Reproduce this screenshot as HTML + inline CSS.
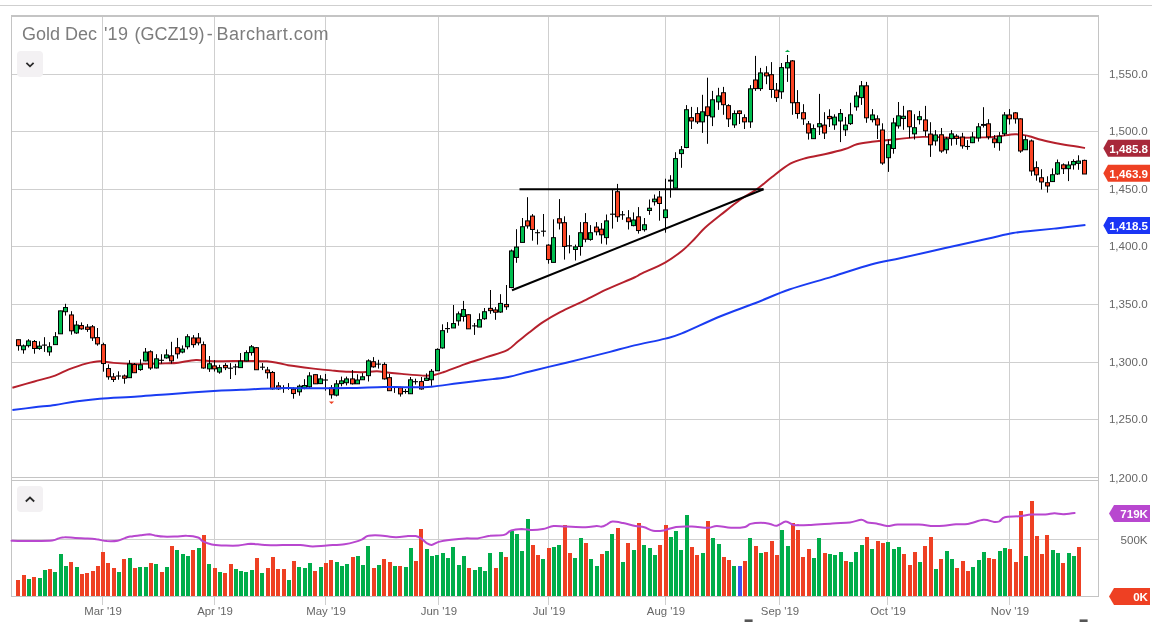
<!DOCTYPE html><html><head><meta charset="utf-8"><title>Gold Dec '19</title>
<style>html,body{margin:0;padding:0;background:#fff;}body{width:1162px;height:622px;overflow:hidden;position:relative;font-family:"Liberation Sans",sans-serif;}svg{position:absolute;left:0;top:0;display:block;will-change:transform}text{font-family:"Liberation Sans",sans-serif;}</style></head><body>
<svg width="1162" height="622" viewBox="0 0 1162 622">
<rect x="0" y="0" width="1162" height="622" fill="#fff"/>
<rect x="0" y="5" width="1152" height="1" fill="#cfcfcf"/>
<g fill="#cfcfcf" shape-rendering="crispEdges">
<rect x="102" y="16" width="1" height="461"/>
<rect x="102" y="481" width="1" height="115"/>
<rect x="102" y="597" width="1" height="8"/>
<rect x="214" y="16" width="1" height="461"/>
<rect x="214" y="481" width="1" height="115"/>
<rect x="214" y="597" width="1" height="8"/>
<rect x="325" y="16" width="1" height="461"/>
<rect x="325" y="481" width="1" height="115"/>
<rect x="325" y="597" width="1" height="8"/>
<rect x="438" y="16" width="1" height="461"/>
<rect x="438" y="481" width="1" height="115"/>
<rect x="438" y="597" width="1" height="8"/>
<rect x="548" y="16" width="1" height="461"/>
<rect x="548" y="481" width="1" height="115"/>
<rect x="548" y="597" width="1" height="8"/>
<rect x="665" y="16" width="1" height="461"/>
<rect x="665" y="481" width="1" height="115"/>
<rect x="665" y="597" width="1" height="8"/>
<rect x="779" y="16" width="1" height="461"/>
<rect x="779" y="481" width="1" height="115"/>
<rect x="779" y="597" width="1" height="8"/>
<rect x="887" y="16" width="1" height="461"/>
<rect x="887" y="481" width="1" height="115"/>
<rect x="887" y="597" width="1" height="8"/>
<rect x="1009" y="16" width="1" height="461"/>
<rect x="1009" y="481" width="1" height="115"/>
<rect x="1009" y="597" width="1" height="8"/>
<rect x="12" y="74" width="1086" height="1"/>
<rect x="12" y="131" width="1086" height="1"/>
<rect x="12" y="189" width="1086" height="1"/>
<rect x="12" y="246" width="1086" height="1"/>
<rect x="12" y="304" width="1086" height="1"/>
<rect x="12" y="362" width="1086" height="1"/>
<rect x="12" y="419" width="1086" height="1"/>
<rect x="12" y="539" width="1086" height="1"/>
</g>
<g fill="#c4c4c4" shape-rendering="crispEdges">
<rect x="11" y="15" width="1088" height="2"/>
<rect x="11" y="15" width="1" height="582"/>
<rect x="1098" y="15" width="1" height="582"/>
<rect x="11" y="477" width="1088" height="1"/>
<rect x="11" y="480" width="1088" height="1"/>
<rect x="11" y="480" width="1" height="117"/>
<rect x="1098" y="480" width="1" height="117"/>
<rect x="11" y="596" width="1088" height="1"/>
</g>
<g shape-rendering="crispEdges">
<rect x="16" y="580" width="4" height="16" fill="#ee4023"/>
<rect x="22" y="575" width="4" height="21" fill="#ee4023"/>
<rect x="27" y="579" width="4" height="17" fill="#00ad4a"/>
<rect x="32" y="577" width="4" height="19" fill="#ee4023"/>
<rect x="38" y="578" width="4" height="18" fill="#00ad4a"/>
<rect x="43" y="570" width="4" height="26" fill="#00ad4a"/>
<rect x="48" y="569" width="4" height="27" fill="#ee4023"/>
<rect x="53" y="572" width="4" height="24" fill="#00ad4a"/>
<rect x="59" y="554" width="4" height="42" fill="#00ad4a"/>
<rect x="64" y="566" width="4" height="30" fill="#00ad4a"/>
<rect x="69" y="562" width="4" height="34" fill="#ee4023"/>
<rect x="75" y="567" width="4" height="29" fill="#00ad4a"/>
<rect x="80" y="574" width="4" height="22" fill="#ee4023"/>
<rect x="85" y="573" width="4" height="23" fill="#ee4023"/>
<rect x="91" y="571" width="4" height="25" fill="#ee4023"/>
<rect x="96" y="566" width="4" height="30" fill="#ee4023"/>
<rect x="101" y="552" width="4" height="44" fill="#ee4023"/>
<rect x="106" y="563" width="4" height="33" fill="#ee4023"/>
<rect x="112" y="568" width="4" height="28" fill="#ee4023"/>
<rect x="117" y="572" width="4" height="24" fill="#00ad4a"/>
<rect x="122" y="559" width="4" height="37" fill="#ee4023"/>
<rect x="128" y="558" width="4" height="38" fill="#00ad4a"/>
<rect x="133" y="568" width="4" height="28" fill="#ee4023"/>
<rect x="138" y="567" width="4" height="29" fill="#00ad4a"/>
<rect x="144" y="567" width="4" height="29" fill="#00ad4a"/>
<rect x="149" y="563" width="4" height="33" fill="#ee4023"/>
<rect x="154" y="564" width="4" height="32" fill="#00ad4a"/>
<rect x="160" y="572" width="4" height="24" fill="#ee4023"/>
<rect x="165" y="567" width="4" height="29" fill="#00ad4a"/>
<rect x="170" y="546" width="4" height="50" fill="#ee4023"/>
<rect x="175" y="550" width="4" height="46" fill="#00ad4a"/>
<rect x="181" y="554" width="4" height="42" fill="#00ad4a"/>
<rect x="186" y="556" width="4" height="40" fill="#00ad4a"/>
<rect x="191" y="550" width="4" height="46" fill="#ee4023"/>
<rect x="197" y="548" width="4" height="48" fill="#00ad4a"/>
<rect x="202" y="535" width="4" height="61" fill="#ee4023"/>
<rect x="207" y="564" width="4" height="32" fill="#00ad4a"/>
<rect x="213" y="568" width="4" height="28" fill="#ee4023"/>
<rect x="218" y="572" width="4" height="24" fill="#00ad4a"/>
<rect x="223" y="573" width="4" height="23" fill="#ee4023"/>
<rect x="229" y="564" width="4" height="32" fill="#ee4023"/>
<rect x="234" y="569" width="4" height="27" fill="#00ad4a"/>
<rect x="239" y="571" width="4" height="25" fill="#00ad4a"/>
<rect x="244" y="572" width="4" height="24" fill="#00ad4a"/>
<rect x="250" y="570" width="4" height="26" fill="#00ad4a"/>
<rect x="255" y="558" width="4" height="38" fill="#ee4023"/>
<rect x="260" y="573" width="4" height="23" fill="#00ad4a"/>
<rect x="266" y="568" width="4" height="28" fill="#ee4023"/>
<rect x="271" y="557" width="4" height="39" fill="#ee4023"/>
<rect x="276" y="569" width="4" height="27" fill="#ee4023"/>
<rect x="282" y="569" width="4" height="27" fill="#ee4023"/>
<rect x="287" y="580" width="4" height="16" fill="#00ad4a"/>
<rect x="292" y="561" width="4" height="35" fill="#ee4023"/>
<rect x="297" y="567" width="4" height="29" fill="#00ad4a"/>
<rect x="303" y="568" width="4" height="28" fill="#00ad4a"/>
<rect x="308" y="563" width="4" height="33" fill="#00ad4a"/>
<rect x="313" y="571" width="4" height="25" fill="#ee4023"/>
<rect x="319" y="567" width="4" height="29" fill="#00ad4a"/>
<rect x="324" y="563" width="4" height="33" fill="#ee4023"/>
<rect x="329" y="560" width="4" height="36" fill="#ee4023"/>
<rect x="335" y="562" width="4" height="34" fill="#00ad4a"/>
<rect x="340" y="566" width="4" height="30" fill="#00ad4a"/>
<rect x="345" y="564" width="4" height="32" fill="#00ad4a"/>
<rect x="351" y="557" width="4" height="39" fill="#ee4023"/>
<rect x="356" y="556" width="4" height="40" fill="#00ad4a"/>
<rect x="361" y="565" width="4" height="31" fill="#00ad4a"/>
<rect x="366" y="546" width="4" height="50" fill="#00ad4a"/>
<rect x="372" y="568" width="4" height="28" fill="#ee4023"/>
<rect x="377" y="565" width="4" height="31" fill="#00ad4a"/>
<rect x="382" y="559" width="4" height="37" fill="#ee4023"/>
<rect x="388" y="562" width="4" height="34" fill="#ee4023"/>
<rect x="393" y="566" width="4" height="30" fill="#00ad4a"/>
<rect x="398" y="566" width="4" height="30" fill="#ee4023"/>
<rect x="404" y="567" width="4" height="29" fill="#00ad4a"/>
<rect x="409" y="548" width="4" height="48" fill="#00ad4a"/>
<rect x="414" y="561" width="4" height="35" fill="#ee4023"/>
<rect x="419" y="529" width="4" height="67" fill="#ee4023"/>
<rect x="425" y="549" width="4" height="47" fill="#00ad4a"/>
<rect x="430" y="556" width="4" height="40" fill="#00ad4a"/>
<rect x="435" y="555" width="4" height="41" fill="#00ad4a"/>
<rect x="441" y="553" width="4" height="43" fill="#00ad4a"/>
<rect x="446" y="558" width="4" height="38" fill="#00ad4a"/>
<rect x="451" y="547" width="4" height="49" fill="#00ad4a"/>
<rect x="457" y="565" width="4" height="31" fill="#00ad4a"/>
<rect x="462" y="556" width="4" height="40" fill="#00ad4a"/>
<rect x="467" y="568" width="4" height="28" fill="#ee4023"/>
<rect x="473" y="570" width="4" height="26" fill="#00ad4a"/>
<rect x="478" y="567" width="4" height="29" fill="#00ad4a"/>
<rect x="483" y="571" width="4" height="25" fill="#00ad4a"/>
<rect x="488" y="553" width="4" height="43" fill="#00ad4a"/>
<rect x="494" y="568" width="4" height="28" fill="#ee4023"/>
<rect x="499" y="552" width="4" height="44" fill="#00ad4a"/>
<rect x="504" y="557" width="4" height="39" fill="#ee4023"/>
<rect x="510" y="531" width="4" height="65" fill="#00ad4a"/>
<rect x="515" y="534" width="4" height="62" fill="#00ad4a"/>
<rect x="520" y="551" width="4" height="45" fill="#00ad4a"/>
<rect x="526" y="519" width="4" height="77" fill="#00ad4a"/>
<rect x="531" y="545" width="4" height="51" fill="#ee4023"/>
<rect x="536" y="555" width="4" height="41" fill="#ee4023"/>
<rect x="541" y="559" width="4" height="37" fill="#00ad4a"/>
<rect x="547" y="548" width="4" height="48" fill="#ee4023"/>
<rect x="552" y="547" width="4" height="49" fill="#00ad4a"/>
<rect x="557" y="545" width="4" height="51" fill="#00ad4a"/>
<rect x="563" y="525" width="4" height="71" fill="#ee4023"/>
<rect x="568" y="553" width="4" height="43" fill="#ee4023"/>
<rect x="573" y="558" width="4" height="38" fill="#00ad4a"/>
<rect x="579" y="538" width="4" height="58" fill="#00ad4a"/>
<rect x="584" y="543" width="4" height="53" fill="#ee4023"/>
<rect x="589" y="559" width="4" height="37" fill="#00ad4a"/>
<rect x="595" y="566" width="4" height="30" fill="#00ad4a"/>
<rect x="600" y="554" width="4" height="42" fill="#ee4023"/>
<rect x="605" y="551" width="4" height="45" fill="#00ad4a"/>
<rect x="610" y="534" width="4" height="62" fill="#00ad4a"/>
<rect x="616" y="528" width="4" height="68" fill="#ee4023"/>
<rect x="621" y="562" width="4" height="34" fill="#00ad4a"/>
<rect x="626" y="543" width="4" height="53" fill="#ee4023"/>
<rect x="632" y="550" width="4" height="46" fill="#00ad4a"/>
<rect x="637" y="523" width="4" height="73" fill="#ee4023"/>
<rect x="642" y="545" width="4" height="51" fill="#00ad4a"/>
<rect x="648" y="548" width="4" height="48" fill="#00ad4a"/>
<rect x="653" y="555" width="4" height="41" fill="#00ad4a"/>
<rect x="658" y="545" width="4" height="51" fill="#ee4023"/>
<rect x="664" y="525" width="4" height="71" fill="#ee4023"/>
<rect x="669" y="537" width="4" height="59" fill="#00ad4a"/>
<rect x="674" y="531" width="4" height="65" fill="#00ad4a"/>
<rect x="679" y="550" width="4" height="46" fill="#00ad4a"/>
<rect x="685" y="515" width="4" height="81" fill="#00ad4a"/>
<rect x="690" y="547" width="4" height="49" fill="#ee4023"/>
<rect x="695" y="555" width="4" height="41" fill="#ee4023"/>
<rect x="701" y="553" width="4" height="43" fill="#00ad4a"/>
<rect x="706" y="521" width="4" height="75" fill="#ee4023"/>
<rect x="711" y="538" width="4" height="58" fill="#00ad4a"/>
<rect x="717" y="544" width="4" height="52" fill="#00ad4a"/>
<rect x="722" y="557" width="4" height="39" fill="#ee4023"/>
<rect x="727" y="560" width="4" height="36" fill="#ee4023"/>
<rect x="732" y="566" width="4" height="30" fill="#00ad4a"/>
<rect x="738" y="566" width="4" height="30" fill="#3b55f0"/>
<rect x="743" y="561" width="4" height="35" fill="#ee4023"/>
<rect x="748" y="538" width="4" height="58" fill="#00ad4a"/>
<rect x="754" y="546" width="4" height="50" fill="#ee4023"/>
<rect x="759" y="553" width="4" height="43" fill="#00ad4a"/>
<rect x="764" y="552" width="4" height="44" fill="#ee4023"/>
<rect x="770" y="541" width="4" height="55" fill="#ee4023"/>
<rect x="775" y="555" width="4" height="41" fill="#ee4023"/>
<rect x="780" y="530" width="4" height="66" fill="#00ad4a"/>
<rect x="786" y="546" width="4" height="50" fill="#00ad4a"/>
<rect x="791" y="523" width="4" height="73" fill="#ee4023"/>
<rect x="796" y="530" width="4" height="66" fill="#ee4023"/>
<rect x="801" y="557" width="4" height="39" fill="#ee4023"/>
<rect x="807" y="549" width="4" height="47" fill="#ee4023"/>
<rect x="812" y="558" width="4" height="38" fill="#00ad4a"/>
<rect x="817" y="538" width="4" height="58" fill="#00ad4a"/>
<rect x="823" y="553" width="4" height="43" fill="#ee4023"/>
<rect x="828" y="554" width="4" height="42" fill="#00ad4a"/>
<rect x="833" y="555" width="4" height="41" fill="#00ad4a"/>
<rect x="839" y="552" width="4" height="44" fill="#00ad4a"/>
<rect x="844" y="561" width="4" height="35" fill="#ee4023"/>
<rect x="849" y="562" width="4" height="34" fill="#00ad4a"/>
<rect x="854" y="552" width="4" height="44" fill="#00ad4a"/>
<rect x="860" y="545" width="4" height="51" fill="#00ad4a"/>
<rect x="865" y="537" width="4" height="59" fill="#ee4023"/>
<rect x="870" y="549" width="4" height="47" fill="#00ad4a"/>
<rect x="876" y="541" width="4" height="55" fill="#ee4023"/>
<rect x="881" y="543" width="4" height="53" fill="#ee4023"/>
<rect x="886" y="542" width="4" height="54" fill="#00ad4a"/>
<rect x="892" y="549" width="4" height="47" fill="#00ad4a"/>
<rect x="897" y="547" width="4" height="49" fill="#00ad4a"/>
<rect x="902" y="554" width="4" height="42" fill="#ee4023"/>
<rect x="908" y="565" width="4" height="31" fill="#ee4023"/>
<rect x="913" y="552" width="4" height="44" fill="#ee4023"/>
<rect x="918" y="562" width="4" height="34" fill="#00ad4a"/>
<rect x="923" y="546" width="4" height="50" fill="#ee4023"/>
<rect x="929" y="537" width="4" height="59" fill="#ee4023"/>
<rect x="934" y="569" width="4" height="27" fill="#00ad4a"/>
<rect x="939" y="559" width="4" height="37" fill="#ee4023"/>
<rect x="945" y="551" width="4" height="45" fill="#00ad4a"/>
<rect x="950" y="559" width="4" height="37" fill="#00ad4a"/>
<rect x="955" y="568" width="4" height="28" fill="#ee4023"/>
<rect x="961" y="561" width="4" height="35" fill="#ee4023"/>
<rect x="966" y="571" width="4" height="25" fill="#ee4023"/>
<rect x="971" y="567" width="4" height="29" fill="#00ad4a"/>
<rect x="977" y="560" width="4" height="36" fill="#00ad4a"/>
<rect x="982" y="552" width="4" height="44" fill="#00ad4a"/>
<rect x="987" y="558" width="4" height="38" fill="#ee4023"/>
<rect x="992" y="559" width="4" height="37" fill="#ee4023"/>
<rect x="998" y="551" width="4" height="45" fill="#00ad4a"/>
<rect x="1003" y="548" width="4" height="48" fill="#00ad4a"/>
<rect x="1008" y="549" width="4" height="47" fill="#ee4023"/>
<rect x="1014" y="562" width="4" height="34" fill="#ee4023"/>
<rect x="1019" y="511" width="4" height="85" fill="#ee4023"/>
<rect x="1024" y="556" width="4" height="40" fill="#00ad4a"/>
<rect x="1030" y="501" width="4" height="95" fill="#ee4023"/>
<rect x="1035" y="536" width="4" height="60" fill="#ee4023"/>
<rect x="1040" y="554" width="4" height="42" fill="#ee4023"/>
<rect x="1045" y="535" width="4" height="61" fill="#ee4023"/>
<rect x="1051" y="550" width="4" height="46" fill="#00ad4a"/>
<rect x="1056" y="553" width="4" height="43" fill="#00ad4a"/>
<rect x="1061" y="563" width="4" height="33" fill="#ee4023"/>
<rect x="1067" y="553" width="4" height="43" fill="#00ad4a"/>
<rect x="1072" y="556" width="4" height="40" fill="#00ad4a"/>
<rect x="1077" y="547" width="4" height="49" fill="#ee4023"/>
</g>
<path fill="none" stroke="#b847cf" stroke-width="2" stroke-linejoin="round" stroke-linecap="round" d="M11.5,540.7 C14.8,540.8 24.2,541.1 31.0,541.1 C37.8,541.0 47.5,541.0 52.2,540.5 C56.9,540.0 57.2,538.6 59.3,538.1 C61.4,537.5 61.9,537.2 64.6,537.2 C67.3,537.1 71.4,537.7 75.2,537.9 C79.0,538.1 84.1,538.2 87.6,538.4 C91.1,538.6 93.2,538.8 96.4,539.3 C99.7,539.7 103.5,540.8 107.0,541.1 C110.6,541.3 114.7,541.2 117.7,540.7 C120.6,540.2 122.7,538.7 124.7,538.1 C126.8,537.4 127.4,537.1 130.0,536.6 C132.7,536.2 137.4,535.6 140.6,535.2 C143.9,534.8 147.1,534.3 149.5,534.3 C151.9,534.4 152.4,535.0 154.8,535.4 C157.2,535.8 160.1,536.5 163.6,536.6 C167.2,536.8 172.2,536.6 176.0,536.5 C179.9,536.3 182.9,535.6 186.6,535.8 C190.3,535.9 195.5,536.6 198.1,537.5 C200.8,538.4 200.3,539.9 202.6,541.1 C204.8,542.2 208.2,543.9 211.8,544.6 C215.5,545.3 219.8,545.3 224.2,545.5 C228.6,545.6 234.0,545.8 238.4,545.5 C242.8,545.2 246.3,543.8 250.8,543.7 C255.2,543.7 259.6,544.9 264.9,545.1 C270.2,545.4 276.7,545.1 282.6,545.1 C288.5,545.1 295.3,544.9 300.3,545.1 C305.3,545.3 308.2,546.3 312.7,546.4 C317.1,546.4 321.5,545.8 326.8,545.5 C332.1,545.1 339.8,544.8 344.5,544.2 C349.2,543.7 352.2,542.8 355.1,541.9 C358.1,541.1 360.0,540.3 362.2,539.3 C364.4,538.3 365.4,536.4 368.4,535.8 C371.3,535.1 375.3,535.2 379.9,535.4 C384.4,535.6 391.1,537.1 395.8,537.2 C400.5,537.3 404.7,536.3 408.0,536.1 C411.3,535.9 413.5,535.7 415.7,536.1 C417.9,536.5 419.2,537.3 421.0,538.4 C422.8,539.5 424.5,541.7 426.3,542.8 C428.1,543.9 429.5,545.1 431.6,545.0 C433.7,544.8 435.4,542.8 438.7,541.9 C441.9,541.1 446.6,540.4 451.1,539.8 C455.5,539.2 460.8,538.6 465.2,538.4 C469.6,538.2 473.5,538.8 477.6,538.4 C481.7,538.0 485.5,536.3 490.0,535.8 C494.4,535.2 500.6,535.8 504.1,534.9 C507.7,534.0 508.2,531.4 511.2,530.4 C514.1,529.5 518.3,529.1 521.8,529.0 C525.3,529.0 528.9,530.1 532.4,530.1 C536.0,530.1 539.5,529.7 543.0,529.0 C546.6,528.4 549.8,526.4 553.6,526.0 C557.5,525.6 560.7,526.4 566.0,526.6 C571.3,526.8 580.4,527.4 585.5,527.3 C590.6,527.2 593.8,526.1 596.5,526.0 C599.3,525.9 600.1,526.9 601.8,526.6 C603.6,526.3 605.4,525.1 607.1,524.3 C608.9,523.4 609.8,521.8 612.5,521.6 C615.1,521.4 619.2,522.3 623.1,523.0 C626.9,523.8 631.9,525.3 635.4,526.0 C639.0,526.7 641.3,526.5 644.3,527.3 C647.2,528.1 649.9,530.3 653.1,530.8 C656.4,531.3 659.9,531.1 663.7,530.4 C667.6,529.8 671.4,527.6 676.1,526.9 C680.8,526.3 686.7,526.4 692.0,526.6 C697.4,526.7 703.8,527.9 708.0,527.8 C712.1,527.7 713.0,526.0 716.8,526.0 C720.6,526.0 726.2,527.6 731.0,527.8 C735.7,527.9 741.9,527.6 745.1,526.9 C748.3,526.3 747.8,524.6 750.4,523.9 C753.1,523.2 757.8,522.8 761.0,522.8 C764.3,522.8 767.2,523.4 769.9,523.9 C772.5,524.4 774.3,526.1 776.9,525.7 C779.6,525.3 783.1,521.8 785.8,521.6 C788.4,521.5 790.8,524.2 792.9,524.8 C794.9,525.4 795.3,525.1 798.0,525.1 C800.7,525.2 803.5,525.4 809.2,525.1 C814.9,524.8 825.4,523.8 832.2,523.4 C839.0,522.9 845.0,523.1 849.9,522.5 C854.8,521.9 858.5,519.8 861.4,519.8 C864.3,519.8 865.1,521.9 867.6,522.5 C870.1,523.1 873.2,522.8 876.4,523.4 C879.7,524.0 883.5,525.8 887.0,526.0 C890.6,526.2 892.4,524.8 897.7,524.6 C903.0,524.4 913.0,524.4 918.9,524.6 C924.8,524.8 928.9,525.8 933.0,526.0 C937.2,526.2 939.8,526.0 943.6,525.7 C947.5,525.4 952.0,524.6 956.0,524.3 C960.0,524.0 963.0,524.6 967.6,523.9 C972.2,523.2 979.1,520.2 983.5,519.8 C988.0,519.5 991.5,521.7 994.1,522.0 C996.8,522.2 997.7,522.0 999.4,521.3 C1001.2,520.5 1001.5,518.0 1004.8,517.2 C1008.0,516.4 1014.5,516.7 1018.9,516.3 C1023.3,515.9 1026.9,514.8 1031.3,514.5 C1035.7,514.2 1041.6,514.7 1045.4,514.5 C1049.3,514.3 1051.3,513.4 1054.3,513.3 C1057.2,513.2 1059.7,514.2 1063.1,514.2 C1066.5,514.1 1072.7,513.1 1074.6,512.9"/>
<path fill="none" stroke="#b5202c" stroke-width="1.95" stroke-linejoin="round" d="M12.4,387.7 C16.1,386.7 27.3,383.5 34.4,381.5 C41.5,379.5 49.4,377.6 55.1,375.6 C60.8,373.6 63.6,371.4 68.8,369.4 C74.0,367.4 80.8,365.0 86.0,363.6 C91.2,362.2 95.2,361.3 99.8,361.2 C104.4,361.1 107.3,362.4 113.6,362.9 C119.9,363.4 132.8,364.1 137.7,364.3 C142.6,364.5 138.4,364.0 143.0,363.9 C147.6,363.8 159.3,363.6 165.2,363.4 C171.1,363.2 173.3,363.3 178.4,362.7 C183.5,362.1 190.1,360.2 196.0,360.0 C201.9,359.8 204.8,361.2 213.7,361.3 C222.5,361.4 240.2,360.9 249.1,360.9 C257.9,360.9 262.0,360.9 266.8,361.3 C271.6,361.7 274.5,362.4 278.0,363.0 C281.5,363.6 285.1,364.6 288.0,365.2 C290.9,365.8 291.5,365.7 295.7,366.3 C299.9,366.9 307.5,367.9 313.4,368.6 C319.3,369.3 325.1,369.9 331.0,370.4 C336.9,370.9 343.4,371.5 348.7,371.8 C354.0,372.1 358.2,372.3 362.9,372.2 C367.6,372.1 372.9,371.2 377.0,371.3 C381.1,371.4 383.5,372.1 387.6,372.5 C391.7,372.9 396.0,373.4 401.8,373.9 C407.6,374.4 417.4,375.4 422.7,375.6 C427.9,375.8 429.8,375.8 433.3,375.2 C436.8,374.6 438.6,373.9 443.9,372.0 C449.2,370.1 458.0,366.6 465.1,364.1 C472.2,361.6 479.5,359.5 486.4,357.2 C493.3,354.9 501.4,353.1 506.7,350.4 C512.0,347.7 514.5,344.1 518.2,341.2 C521.9,338.3 524.7,336.0 528.8,332.8 C532.9,329.6 537.7,325.6 543.0,322.1 C548.3,318.6 554.1,315.3 560.6,311.9 C567.1,308.5 574.3,305.5 581.9,301.8 C589.5,298.1 597.4,293.8 606.1,289.7 C614.9,285.6 628.5,280.2 634.4,277.5 C640.3,274.8 636.3,276.2 641.5,273.7 C646.7,271.2 658.7,266.1 665.5,262.3 C672.3,258.5 677.3,254.6 682.2,250.7 C687.1,246.8 690.9,242.5 694.7,238.7 C698.5,234.9 700.7,231.7 705.0,227.8 C709.3,223.9 714.7,219.7 720.5,215.1 C726.3,210.5 733.8,204.3 739.8,200.0 C745.8,195.7 751.3,193.1 756.7,189.3 C762.1,185.5 766.4,181.3 772.0,177.0 C777.6,172.7 784.6,166.9 790.3,163.7 C796.0,160.5 800.4,159.6 806.3,158.0 C812.2,156.4 819.2,155.5 825.7,154.0 C832.2,152.5 839.8,150.6 845.0,149.0 C850.2,147.4 852.4,145.5 856.9,144.3 C861.4,143.1 865.4,142.7 872.0,141.8 C878.6,141.0 888.0,140.0 896.5,139.2 C905.0,138.4 912.7,137.1 923.0,136.9 C933.3,136.7 948.1,137.7 958.4,137.8 C968.7,137.9 979.1,137.6 985.0,137.4 C990.9,137.2 990.8,137.2 993.8,136.9 C996.8,136.6 999.2,136.1 1002.7,135.7 C1006.2,135.2 1011.5,134.3 1015.0,134.2 C1018.5,134.1 1021.5,134.8 1023.9,135.1 C1026.3,135.4 1025.4,135.3 1029.2,136.3 C1033.0,137.3 1041.0,139.9 1046.9,141.3 C1052.8,142.7 1059.8,144.0 1064.5,144.8 C1069.2,145.6 1071.6,145.7 1075.0,146.2 C1078.4,146.7 1083.3,147.7 1085.0,148.0"/>
<line x1="519.5" y1="189.2" x2="763.5" y2="189.2" stroke="#000" stroke-width="2"/>
<line x1="512" y1="290.3" x2="763.5" y2="189.2" stroke="#000" stroke-width="2"/>
<g stroke="#000" stroke-width="1">
<line x1="18.5" y1="339.5" x2="18.5" y2="350.7"/>
<rect x="16.5" y="339.71" width="4" height="5.96" fill="#fb4525"/>
<line x1="23.5" y1="344.5" x2="23.5" y2="353.7"/>
<rect x="21.5" y="345.90" width="4" height="3.84" fill="#00bd4f"/>
<line x1="28.5" y1="339.2" x2="28.5" y2="347.5"/>
<rect x="26.5" y="340.95" width="4" height="4.72" fill="#00bd4f"/>
<line x1="34.5" y1="340.0" x2="34.5" y2="353.7"/>
<rect x="32.5" y="341.48" width="4" height="7.02" fill="#fb4525"/>
<line x1="39.5" y1="341.3" x2="39.5" y2="349.8"/>
<rect x="37.5" y="346.14" width="4" height="2.30" fill="#00bd4f"/>
<line x1="44.5" y1="337.2" x2="44.5" y2="351.9"/>
<line x1="42.0" y1="345.1" x2="47.0" y2="345.1" stroke-width="1.1"/>
<line x1="49.5" y1="342.2" x2="49.5" y2="355.8"/>
<rect x="47.5" y="346.79" width="4" height="5.07" fill="#00bd4f"/>
<line x1="55.5" y1="332.1" x2="55.5" y2="344.1"/>
<rect x="53.5" y="336.71" width="4" height="7.90" fill="#00bd4f"/>
<line x1="60.5" y1="310.7" x2="60.5" y2="333.3"/>
<rect x="58.5" y="310.89" width="4" height="22.93" fill="#00bd4f"/>
<line x1="65.5" y1="303.8" x2="65.5" y2="315.6"/>
<rect x="63.5" y="307.53" width="4" height="4.19" fill="#00bd4f"/>
<line x1="71.5" y1="311.2" x2="71.5" y2="334.7"/>
<rect x="69.5" y="314.96" width="4" height="15.86" fill="#fb4525"/>
<line x1="76.5" y1="320.9" x2="76.5" y2="333.9"/>
<rect x="74.5" y="325.04" width="4" height="7.90" fill="#00bd4f"/>
<line x1="81.5" y1="322.4" x2="81.5" y2="329.8"/>
<rect x="79.5" y="325.57" width="4" height="3.31" fill="#fb4525"/>
<line x1="87.5" y1="324.1" x2="87.5" y2="331.9"/>
<rect x="85.5" y="327.05" width="4" height="2.30" fill="#fb4525"/>
<line x1="92.5" y1="325.0" x2="92.5" y2="340.9"/>
<rect x="90.5" y="326.80" width="4" height="11.09" fill="#fb4525"/>
<line x1="97.5" y1="328.0" x2="97.5" y2="345.7"/>
<rect x="95.5" y="337.59" width="4" height="6.31" fill="#fb4525"/>
<line x1="103.5" y1="342.7" x2="103.5" y2="371.7"/>
<rect x="101.5" y="344.67" width="4" height="18.87" fill="#fb4525"/>
<line x1="108.5" y1="364.3" x2="108.5" y2="379.7"/>
<rect x="106.5" y="368.54" width="4" height="8.26" fill="#fb4525"/>
<line x1="113.5" y1="373.1" x2="113.5" y2="382.0"/>
<rect x="111.5" y="376.85" width="4" height="2.60" fill="#fb4525"/>
<line x1="118.5" y1="371.3" x2="118.5" y2="379.7"/>
<line x1="116.0" y1="376.0" x2="121.0" y2="376.0" stroke-width="1.1"/>
<line x1="124.5" y1="374.5" x2="124.5" y2="383.7"/>
<rect x="122.5" y="375.94" width="4" height="2.30" fill="#fb4525"/>
<line x1="129.5" y1="360.2" x2="129.5" y2="377.2"/>
<rect x="127.5" y="363.94" width="4" height="13.74" fill="#00bd4f"/>
<line x1="134.5" y1="363.0" x2="134.5" y2="372.8"/>
<rect x="132.5" y="364.47" width="4" height="8.26" fill="#fb4525"/>
<line x1="140.5" y1="359.3" x2="140.5" y2="370.8"/>
<rect x="138.5" y="364.82" width="4" height="4.72" fill="#00bd4f"/>
<line x1="145.5" y1="348.0" x2="145.5" y2="361.3"/>
<rect x="143.5" y="352.11" width="4" height="8.79" fill="#00bd4f"/>
<line x1="150.5" y1="350.3" x2="150.5" y2="369.8"/>
<rect x="148.5" y="351.76" width="4" height="16.22" fill="#fb4525"/>
<line x1="156.5" y1="354.2" x2="156.5" y2="368.4"/>
<rect x="154.5" y="358.83" width="4" height="9.14" fill="#00bd4f"/>
<line x1="161.5" y1="354.2" x2="161.5" y2="363.6"/>
<line x1="159.0" y1="360.3" x2="164.0" y2="360.3" stroke-width="1.1"/>
<line x1="166.5" y1="349.3" x2="166.5" y2="358.6"/>
<rect x="164.5" y="354.94" width="4" height="2.95" fill="#00bd4f"/>
<line x1="171.5" y1="341.8" x2="171.5" y2="363.6"/>
<rect x="169.5" y="355.82" width="4" height="5.07" fill="#fb4525"/>
<line x1="177.5" y1="337.9" x2="177.5" y2="358.6"/>
<rect x="175.5" y="347.69" width="4" height="6.14" fill="#fb4525"/>
<line x1="182.5" y1="345.4" x2="182.5" y2="353.3"/>
<rect x="180.5" y="349.10" width="4" height="2.95" fill="#00bd4f"/>
<line x1="187.5" y1="334.2" x2="187.5" y2="349.3"/>
<rect x="185.5" y="336.73" width="4" height="10.03" fill="#00bd4f"/>
<line x1="193.5" y1="335.1" x2="193.5" y2="347.7"/>
<rect x="191.5" y="337.96" width="4" height="6.67" fill="#fb4525"/>
<line x1="198.5" y1="333.0" x2="198.5" y2="345.4"/>
<rect x="196.5" y="337.96" width="4" height="4.90" fill="#fb4525"/>
<line x1="203.5" y1="341.5" x2="203.5" y2="368.7"/>
<rect x="201.5" y="344.68" width="4" height="23.29" fill="#fb4525"/>
<line x1="209.5" y1="356.0" x2="209.5" y2="371.9"/>
<rect x="207.5" y="363.78" width="4" height="5.07" fill="#00bd4f"/>
<line x1="214.5" y1="360.0" x2="214.5" y2="371.5"/>
<rect x="212.5" y="365.90" width="4" height="2.95" fill="#fb4525"/>
<line x1="219.5" y1="364.8" x2="219.5" y2="373.7"/>
<rect x="217.5" y="367.67" width="4" height="4.37" fill="#00bd4f"/>
<line x1="225.5" y1="363.1" x2="225.5" y2="370.1"/>
<rect x="223.5" y="365.44" width="4" height="2.30" fill="#fb4525"/>
<line x1="230.5" y1="363.1" x2="230.5" y2="379.0"/>
<line x1="228.0" y1="368.2" x2="233.0" y2="368.2" stroke-width="1.1"/>
<line x1="235.5" y1="363.9" x2="235.5" y2="375.1"/>
<line x1="233.0" y1="366.9" x2="238.0" y2="366.9" stroke-width="1.1"/>
<line x1="240.5" y1="353.0" x2="240.5" y2="367.1"/>
<rect x="238.5" y="361.13" width="4" height="6.49" fill="#00bd4f"/>
<line x1="246.5" y1="350.3" x2="246.5" y2="361.3"/>
<rect x="244.5" y="352.64" width="4" height="8.26" fill="#00bd4f"/>
<line x1="251.5" y1="345.0" x2="251.5" y2="355.6"/>
<rect x="249.5" y="346.80" width="4" height="5.78" fill="#00bd4f"/>
<line x1="256.5" y1="347.1" x2="256.5" y2="369.2"/>
<rect x="254.5" y="347.69" width="4" height="22.05" fill="#fb4525"/>
<line x1="262.5" y1="363.1" x2="262.5" y2="370.1"/>
<line x1="260.0" y1="367.2" x2="265.0" y2="367.2" stroke-width="1.1"/>
<line x1="267.5" y1="366.9" x2="267.5" y2="378.6"/>
<rect x="265.5" y="369.97" width="4" height="2.78" fill="#fb4525"/>
<line x1="272.5" y1="371.0" x2="272.5" y2="389.6"/>
<rect x="270.5" y="372.45" width="4" height="16.39" fill="#fb4525"/>
<line x1="278.5" y1="382.1" x2="278.5" y2="389.9"/>
<rect x="276.5" y="385.89" width="4" height="2.95" fill="#fb4525"/>
<line x1="283.5" y1="385.2" x2="283.5" y2="392.8"/>
<line x1="281.0" y1="388.1" x2="286.0" y2="388.1" stroke-width="1.1"/>
<line x1="288.5" y1="383.1" x2="288.5" y2="389.8"/>
<line x1="286.0" y1="387.8" x2="291.0" y2="387.8" stroke-width="1.1"/>
<line x1="293.5" y1="387.2" x2="293.5" y2="398.7"/>
<rect x="291.5" y="389.17" width="4" height="4.37" fill="#fb4525"/>
<line x1="299.5" y1="384.5" x2="299.5" y2="395.7"/>
<rect x="297.5" y="386.16" width="4" height="5.61" fill="#00bd4f"/>
<line x1="304.5" y1="379.2" x2="304.5" y2="389.3"/>
<rect x="302.5" y="385.52" width="4" height="2.30" fill="#00bd4f"/>
<line x1="309.5" y1="372.2" x2="309.5" y2="388.6"/>
<rect x="307.5" y="375.90" width="4" height="10.91" fill="#00bd4f"/>
<line x1="315.5" y1="374.3" x2="315.5" y2="384.0"/>
<rect x="313.5" y="374.67" width="4" height="9.14" fill="#fb4525"/>
<line x1="320.5" y1="375.2" x2="320.5" y2="384.0"/>
<rect x="318.5" y="378.91" width="4" height="4.72" fill="#00bd4f"/>
<line x1="325.5" y1="373.9" x2="325.5" y2="390.7"/>
<line x1="323.0" y1="380.0" x2="328.0" y2="380.0" stroke-width="1.1"/>
<line x1="331.5" y1="385.1" x2="331.5" y2="398.7"/>
<rect x="329.5" y="387.93" width="4" height="6.84" fill="#fb4525"/>
<line x1="336.5" y1="380.1" x2="336.5" y2="396.4"/>
<rect x="334.5" y="383.86" width="4" height="11.26" fill="#00bd4f"/>
<line x1="341.5" y1="376.6" x2="341.5" y2="386.3"/>
<rect x="339.5" y="380.85" width="4" height="2.78" fill="#00bd4f"/>
<line x1="346.5" y1="376.6" x2="346.5" y2="385.4"/>
<rect x="344.5" y="378.91" width="4" height="3.84" fill="#00bd4f"/>
<line x1="352.5" y1="370.0" x2="352.5" y2="384.5"/>
<rect x="350.5" y="378.91" width="4" height="4.90" fill="#fb4525"/>
<line x1="357.5" y1="374.3" x2="357.5" y2="384.0"/>
<rect x="355.5" y="379.97" width="4" height="3.84" fill="#00bd4f"/>
<line x1="362.5" y1="373.1" x2="362.5" y2="379.8"/>
<rect x="360.5" y="376.79" width="4" height="2.95" fill="#00bd4f"/>
<line x1="368.5" y1="359.3" x2="368.5" y2="381.5"/>
<rect x="366.5" y="360.87" width="4" height="14.80" fill="#00bd4f"/>
<line x1="373.5" y1="357.1" x2="373.5" y2="367.7"/>
<rect x="371.5" y="361.76" width="4" height="5.07" fill="#fb4525"/>
<line x1="378.5" y1="359.8" x2="378.5" y2="368.6"/>
<line x1="376.0" y1="364.1" x2="381.0" y2="364.1" stroke-width="1.1"/>
<line x1="384.5" y1="362.4" x2="384.5" y2="379.6"/>
<rect x="382.5" y="364.41" width="4" height="14.45" fill="#fb4525"/>
<line x1="389.5" y1="373.9" x2="389.5" y2="390.7"/>
<rect x="387.5" y="377.67" width="4" height="13.03" fill="#fb4525"/>
<line x1="394.5" y1="386.3" x2="394.5" y2="392.9"/>
<line x1="392.0" y1="387.5" x2="397.0" y2="387.5" stroke-width="1.1"/>
<line x1="400.5" y1="386.8" x2="400.5" y2="396.6"/>
<rect x="398.5" y="387.75" width="4" height="6.14" fill="#fb4525"/>
<line x1="405.5" y1="389.0" x2="405.5" y2="393.7"/>
<line x1="403.0" y1="391.5" x2="408.0" y2="391.5" stroke-width="1.1"/>
<line x1="410.5" y1="377.0" x2="410.5" y2="393.8"/>
<rect x="408.5" y="379.82" width="4" height="13.92" fill="#00bd4f"/>
<line x1="415.5" y1="378.7" x2="415.5" y2="384.6"/>
<line x1="413.0" y1="381.7" x2="418.0" y2="381.7" stroke-width="1.1"/>
<line x1="421.5" y1="377.0" x2="421.5" y2="389.7"/>
<rect x="419.5" y="381.59" width="4" height="7.37" fill="#fb4525"/>
<line x1="426.5" y1="373.4" x2="426.5" y2="380.5"/>
<rect x="424.5" y="378.12" width="4" height="2.30" fill="#00bd4f"/>
<line x1="431.5" y1="369.0" x2="431.5" y2="385.8"/>
<rect x="429.5" y="371.33" width="4" height="8.44" fill="#00bd4f"/>
<line x1="437.5" y1="348.3" x2="437.5" y2="370.8"/>
<rect x="435.5" y="349.40" width="4" height="21.35" fill="#00bd4f"/>
<line x1="442.5" y1="324.3" x2="442.5" y2="348.7"/>
<rect x="440.5" y="330.65" width="4" height="17.28" fill="#00bd4f"/>
<line x1="447.5" y1="322.1" x2="447.5" y2="332.8"/>
<line x1="445.0" y1="328.6" x2="450.0" y2="328.6" stroke-width="1.1"/>
<line x1="453.5" y1="305.0" x2="453.5" y2="327.4"/>
<rect x="451.5" y="323.58" width="4" height="4.37" fill="#00bd4f"/>
<line x1="458.5" y1="311.5" x2="458.5" y2="325.7"/>
<rect x="456.5" y="313.85" width="4" height="7.02" fill="#00bd4f"/>
<line x1="463.5" y1="300.9" x2="463.5" y2="321.6"/>
<rect x="461.5" y="309.61" width="4" height="6.84" fill="#00bd4f"/>
<line x1="468.5" y1="314.2" x2="468.5" y2="328.7"/>
<rect x="466.5" y="314.74" width="4" height="14.10" fill="#fb4525"/>
<line x1="474.5" y1="323.0" x2="474.5" y2="334.9"/>
<line x1="472.0" y1="325.9" x2="477.0" y2="325.9" stroke-width="1.1"/>
<line x1="479.5" y1="313.3" x2="479.5" y2="326.9"/>
<rect x="477.5" y="319.69" width="4" height="7.37" fill="#00bd4f"/>
<line x1="484.5" y1="308.0" x2="484.5" y2="319.8"/>
<rect x="482.5" y="311.73" width="4" height="7.02" fill="#00bd4f"/>
<line x1="490.5" y1="290.0" x2="490.5" y2="313.8"/>
<rect x="488.5" y="308.35" width="4" height="2.30" fill="#fb4525"/>
<line x1="495.5" y1="307.1" x2="495.5" y2="319.8"/>
<rect x="493.5" y="309.94" width="4" height="2.30" fill="#fb4525"/>
<line x1="500.5" y1="294.2" x2="500.5" y2="312.8"/>
<rect x="498.5" y="303.42" width="4" height="8.61" fill="#00bd4f"/>
<line x1="506.5" y1="285.0" x2="506.5" y2="309.8"/>
<rect x="504.5" y="304.45" width="4" height="2.30" fill="#fb4525"/>
<line x1="511.5" y1="249.5" x2="511.5" y2="288.2"/>
<rect x="509.5" y="250.95" width="4" height="36.56" fill="#00bd4f"/>
<line x1="516.5" y1="229.2" x2="516.5" y2="262.8"/>
<rect x="514.5" y="247.06" width="4" height="10.38" fill="#00bd4f"/>
<line x1="522.5" y1="218.0" x2="522.5" y2="242.3"/>
<rect x="520.5" y="226.72" width="4" height="15.69" fill="#00bd4f"/>
<line x1="527.5" y1="197.2" x2="527.5" y2="228.6"/>
<rect x="525.5" y="220.88" width="4" height="5.08" fill="#fb4525"/>
<line x1="532.5" y1="214.1" x2="532.5" y2="240.7"/>
<rect x="530.5" y="216.10" width="4" height="13.39" fill="#fb4525"/>
<line x1="537.5" y1="229.5" x2="537.5" y2="244.6"/>
<line x1="535.0" y1="232.7" x2="540.0" y2="232.7" stroke-width="1.1"/>
<line x1="543.5" y1="214.0" x2="543.5" y2="236.6"/>
<line x1="541.0" y1="231.2" x2="546.0" y2="231.2" stroke-width="1.1"/>
<line x1="548.5" y1="244.2" x2="548.5" y2="263.7"/>
<rect x="546.5" y="245.11" width="4" height="14.45" fill="#fb4525"/>
<line x1="553.5" y1="219.3" x2="553.5" y2="262.2"/>
<rect x="551.5" y="237.68" width="4" height="24.71" fill="#00bd4f"/>
<line x1="559.5" y1="199.1" x2="559.5" y2="229.5"/>
<rect x="557.5" y="218.76" width="4" height="4.19" fill="#fb4525"/>
<line x1="564.5" y1="216.3" x2="564.5" y2="259.6"/>
<rect x="562.5" y="222.65" width="4" height="23.82" fill="#fb4525"/>
<line x1="569.5" y1="235.2" x2="569.5" y2="253.4"/>
<line x1="567.0" y1="245.8" x2="572.0" y2="245.8" stroke-width="1.1"/>
<line x1="575.5" y1="244.6" x2="575.5" y2="260.5"/>
<rect x="573.5" y="246.88" width="4" height="2.60" fill="#00bd4f"/>
<line x1="580.5" y1="222.1" x2="580.5" y2="255.7"/>
<rect x="578.5" y="232.73" width="4" height="13.74" fill="#00bd4f"/>
<line x1="585.5" y1="213.1" x2="585.5" y2="242.3"/>
<rect x="583.5" y="222.65" width="4" height="16.57" fill="#fb4525"/>
<line x1="590.5" y1="225.1" x2="590.5" y2="240.7"/>
<rect x="588.5" y="232.73" width="4" height="6.67" fill="#00bd4f"/>
<line x1="596.5" y1="222.1" x2="596.5" y2="235.4"/>
<rect x="594.5" y="227.07" width="4" height="4.72" fill="#fb4525"/>
<line x1="601.5" y1="223.0" x2="601.5" y2="243.7"/>
<rect x="599.5" y="229.19" width="4" height="5.61" fill="#fb4525"/>
<line x1="606.5" y1="214.5" x2="606.5" y2="244.6"/>
<rect x="604.5" y="220.88" width="4" height="16.75" fill="#00bd4f"/>
<line x1="612.5" y1="189.7" x2="612.5" y2="228.6"/>
<line x1="610.0" y1="214.2" x2="615.0" y2="214.2" stroke-width="1.1"/>
<line x1="617.5" y1="183.9" x2="617.5" y2="221.9"/>
<rect x="615.5" y="191.70" width="4" height="25.06" fill="#fb4525"/>
<line x1="622.5" y1="211.0" x2="622.5" y2="219.8"/>
<line x1="620.0" y1="214.8" x2="625.0" y2="214.8" stroke-width="1.1"/>
<line x1="628.5" y1="210.1" x2="628.5" y2="229.5"/>
<rect x="626.5" y="217.87" width="4" height="3.84" fill="#fb4525"/>
<line x1="633.5" y1="212.4" x2="633.5" y2="226.3"/>
<rect x="631.5" y="219.99" width="4" height="5.61" fill="#00bd4f"/>
<line x1="638.5" y1="207.1" x2="638.5" y2="233.6"/>
<rect x="636.5" y="216.81" width="4" height="13.74" fill="#fb4525"/>
<line x1="644.5" y1="218.0" x2="644.5" y2="231.6"/>
<rect x="642.5" y="224.77" width="4" height="4.90" fill="#00bd4f"/>
<line x1="649.5" y1="199.5" x2="649.5" y2="214.8"/>
<rect x="647.5" y="208.21" width="4" height="2.30" fill="#00bd4f"/>
<line x1="654.5" y1="194.5" x2="654.5" y2="205.6"/>
<rect x="652.5" y="199.12" width="4" height="2.60" fill="#00bd4f"/>
<line x1="659.5" y1="191.0" x2="659.5" y2="220.7"/>
<rect x="657.5" y="197.00" width="4" height="6.49" fill="#fb4525"/>
<line x1="665.5" y1="178.7" x2="665.5" y2="232.7"/>
<rect x="663.5" y="209.90" width="4" height="7.70" fill="#00bd4f"/>
<line x1="670.5" y1="175.2" x2="670.5" y2="197.7"/>
<line x1="668.0" y1="180.6" x2="673.0" y2="180.6" stroke-width="1.9"/>
<line x1="675.5" y1="152.2" x2="675.5" y2="188.5"/>
<rect x="673.5" y="158.60" width="4" height="29.48" fill="#00bd4f"/>
<line x1="681.5" y1="146.0" x2="681.5" y2="167.8"/>
<rect x="679.5" y="149.76" width="4" height="3.84" fill="#00bd4f"/>
<line x1="686.5" y1="105.1" x2="686.5" y2="148.2"/>
<rect x="684.5" y="109.71" width="4" height="37.80" fill="#00bd4f"/>
<line x1="691.5" y1="106.9" x2="691.5" y2="129.0"/>
<rect x="689.5" y="117.67" width="4" height="3.31" fill="#fb4525"/>
<line x1="697.5" y1="107.2" x2="697.5" y2="124.0"/>
<rect x="695.5" y="113.60" width="4" height="8.26" fill="#fb4525"/>
<line x1="702.5" y1="94.8" x2="702.5" y2="132.9"/>
<rect x="700.5" y="111.83" width="4" height="10.03" fill="#00bd4f"/>
<line x1="707.5" y1="77.7" x2="707.5" y2="143.8"/>
<rect x="705.5" y="106.88" width="4" height="8.79" fill="#fb4525"/>
<line x1="712.5" y1="90.9" x2="712.5" y2="126.1"/>
<rect x="710.5" y="99.80" width="4" height="17.10" fill="#00bd4f"/>
<line x1="718.5" y1="87.8" x2="718.5" y2="109.9"/>
<rect x="716.5" y="95.91" width="4" height="5.96" fill="#00bd4f"/>
<line x1="723.5" y1="86.9" x2="723.5" y2="114.8"/>
<rect x="721.5" y="92.73" width="4" height="11.97" fill="#fb4525"/>
<line x1="728.5" y1="104.2" x2="728.5" y2="127.0"/>
<rect x="726.5" y="105.64" width="4" height="13.21" fill="#fb4525"/>
<line x1="734.5" y1="110.4" x2="734.5" y2="127.9"/>
<rect x="732.5" y="113.60" width="4" height="11.27" fill="#00bd4f"/>
<line x1="739.5" y1="110.4" x2="739.5" y2="124.0"/>
<rect x="737.5" y="110.95" width="4" height="2.60" fill="#fb4525"/>
<line x1="744.5" y1="114.3" x2="744.5" y2="129.0"/>
<rect x="742.5" y="117.67" width="4" height="4.19" fill="#fb4525"/>
<line x1="750.5" y1="85.1" x2="750.5" y2="127.9"/>
<rect x="748.5" y="88.84" width="4" height="33.02" fill="#00bd4f"/>
<line x1="755.5" y1="55.9" x2="755.5" y2="90.9"/>
<rect x="753.5" y="79.99" width="4" height="8.61" fill="#fb4525"/>
<line x1="760.5" y1="67.9" x2="760.5" y2="90.9"/>
<rect x="758.5" y="72.92" width="4" height="15.69" fill="#00bd4f"/>
<line x1="766.5" y1="66.2" x2="766.5" y2="84.2"/>
<rect x="764.5" y="72.92" width="4" height="2.95" fill="#fb4525"/>
<line x1="771.5" y1="62.1" x2="771.5" y2="97.8"/>
<rect x="769.5" y="74.69" width="4" height="14.80" fill="#fb4525"/>
<line x1="776.5" y1="83.0" x2="776.5" y2="101.9"/>
<rect x="774.5" y="90.08" width="4" height="7.55" fill="#fb4525"/>
<line x1="781.5" y1="63.0" x2="781.5" y2="98.9"/>
<rect x="779.5" y="67.61" width="4" height="24.18" fill="#00bd4f"/>
<line x1="787.5" y1="55.0" x2="787.5" y2="81.9"/>
<rect x="785.5" y="62.66" width="4" height="5.25" fill="#00bd4f"/>
<line x1="792.5" y1="60.0" x2="792.5" y2="114.8"/>
<rect x="790.5" y="60.89" width="4" height="41.86" fill="#fb4525"/>
<line x1="797.5" y1="90.1" x2="797.5" y2="118.7"/>
<rect x="795.5" y="102.63" width="4" height="10.91" fill="#fb4525"/>
<line x1="803.5" y1="104.2" x2="803.5" y2="124.9"/>
<rect x="801.5" y="112.72" width="4" height="6.14" fill="#fb4525"/>
<line x1="808.5" y1="121.0" x2="808.5" y2="139.6"/>
<rect x="806.5" y="123.86" width="4" height="9.14" fill="#fb4525"/>
<line x1="813.5" y1="124.4" x2="813.5" y2="138.7"/>
<rect x="811.5" y="128.63" width="4" height="10.03" fill="#00bd4f"/>
<line x1="819.5" y1="93.9" x2="819.5" y2="135.0"/>
<rect x="817.5" y="123.68" width="4" height="3.13" fill="#00bd4f"/>
<line x1="824.5" y1="112.2" x2="824.5" y2="139.0"/>
<rect x="822.5" y="125.10" width="4" height="7.91" fill="#fb4525"/>
<line x1="829.5" y1="109.3" x2="829.5" y2="127.0"/>
<rect x="827.5" y="116.41" width="4" height="2.30" fill="#fb4525"/>
<line x1="834.5" y1="114.3" x2="834.5" y2="129.8"/>
<rect x="832.5" y="117.14" width="4" height="7.73" fill="#00bd4f"/>
<line x1="840.5" y1="109.0" x2="840.5" y2="142.1"/>
<rect x="838.5" y="113.60" width="4" height="7.37" fill="#00bd4f"/>
<line x1="845.5" y1="116.9" x2="845.5" y2="136.0"/>
<rect x="843.5" y="125.10" width="4" height="4.72" fill="#00bd4f"/>
<line x1="850.5" y1="102.8" x2="850.5" y2="124.9"/>
<rect x="848.5" y="114.84" width="4" height="8.79" fill="#00bd4f"/>
<line x1="856.5" y1="91.8" x2="856.5" y2="110.7"/>
<rect x="854.5" y="95.91" width="4" height="10.91" fill="#00bd4f"/>
<line x1="861.5" y1="81.0" x2="861.5" y2="104.9"/>
<rect x="859.5" y="85.83" width="4" height="11.80" fill="#00bd4f"/>
<line x1="866.5" y1="81.9" x2="866.5" y2="122.8"/>
<rect x="864.5" y="85.83" width="4" height="31.96" fill="#fb4525"/>
<line x1="872.5" y1="109.1" x2="872.5" y2="122.4"/>
<rect x="870.5" y="114.96" width="4" height="4.72" fill="#00bd4f"/>
<line x1="877.5" y1="115.3" x2="877.5" y2="139.0"/>
<rect x="875.5" y="118.85" width="4" height="6.14" fill="#fb4525"/>
<line x1="882.5" y1="123.3" x2="882.5" y2="164.8"/>
<rect x="880.5" y="129.99" width="4" height="33.02" fill="#fb4525"/>
<line x1="888.5" y1="139.5" x2="888.5" y2="171.9"/>
<rect x="886.5" y="144.67" width="4" height="13.03" fill="#00bd4f"/>
<line x1="893.5" y1="117.9" x2="893.5" y2="153.7"/>
<rect x="891.5" y="122.92" width="4" height="25.59" fill="#00bd4f"/>
<line x1="898.5" y1="102.0" x2="898.5" y2="128.6"/>
<rect x="896.5" y="115.85" width="4" height="10.03" fill="#00bd4f"/>
<line x1="903.5" y1="105.9" x2="903.5" y2="129.8"/>
<rect x="901.5" y="116.26" width="4" height="2.30" fill="#00bd4f"/>
<line x1="909.5" y1="110.3" x2="909.5" y2="138.1"/>
<rect x="907.5" y="110.89" width="4" height="15.86" fill="#fb4525"/>
<line x1="914.5" y1="114.2" x2="914.5" y2="139.5"/>
<rect x="912.5" y="127.70" width="4" height="6.14" fill="#00bd4f"/>
<line x1="919.5" y1="110.9" x2="919.5" y2="124.5"/>
<rect x="917.5" y="116.73" width="4" height="2.95" fill="#00bd4f"/>
<line x1="925.5" y1="105.9" x2="925.5" y2="136.3"/>
<rect x="923.5" y="119.91" width="4" height="10.91" fill="#fb4525"/>
<line x1="930.5" y1="122.2" x2="930.5" y2="156.9"/>
<rect x="928.5" y="134.06" width="4" height="10.74" fill="#fb4525"/>
<line x1="935.5" y1="130.1" x2="935.5" y2="145.7"/>
<rect x="933.5" y="134.95" width="4" height="5.96" fill="#00bd4f"/>
<line x1="941.5" y1="128.0" x2="941.5" y2="152.8"/>
<rect x="939.5" y="134.77" width="4" height="16.22" fill="#fb4525"/>
<line x1="946.5" y1="136.9" x2="946.5" y2="153.7"/>
<rect x="944.5" y="138.84" width="4" height="10.91" fill="#00bd4f"/>
<line x1="951.5" y1="130.1" x2="951.5" y2="145.7"/>
<rect x="949.5" y="133.89" width="4" height="4.72" fill="#00bd4f"/>
<line x1="956.5" y1="134.2" x2="956.5" y2="144.8"/>
<rect x="954.5" y="136.16" width="4" height="2.30" fill="#fb4525"/>
<line x1="962.5" y1="132.8" x2="962.5" y2="148.7"/>
<rect x="960.5" y="137.07" width="4" height="8.79" fill="#fb4525"/>
<line x1="967.5" y1="140.1" x2="967.5" y2="149.8"/>
<line x1="965.0" y1="146.5" x2="970.0" y2="146.5" stroke-width="1.1"/>
<line x1="972.5" y1="132.1" x2="972.5" y2="143.1"/>
<rect x="970.5" y="137.07" width="4" height="5.61" fill="#00bd4f"/>
<line x1="978.5" y1="123.1" x2="978.5" y2="141.6"/>
<rect x="976.5" y="126.81" width="4" height="11.09" fill="#00bd4f"/>
<line x1="983.5" y1="107.2" x2="983.5" y2="127.5"/>
<line x1="981.0" y1="124.9" x2="986.0" y2="124.9" stroke-width="1.9"/>
<line x1="988.5" y1="119.2" x2="988.5" y2="139.5"/>
<rect x="986.5" y="123.80" width="4" height="13.03" fill="#fb4525"/>
<line x1="994.5" y1="135.1" x2="994.5" y2="147.8"/>
<rect x="992.5" y="138.84" width="4" height="3.84" fill="#fb4525"/>
<line x1="999.5" y1="132.1" x2="999.5" y2="150.7"/>
<rect x="997.5" y="136.19" width="4" height="6.49" fill="#00bd4f"/>
<line x1="1004.5" y1="112.1" x2="1004.5" y2="136.0"/>
<rect x="1002.5" y="114.96" width="4" height="18.87" fill="#00bd4f"/>
<line x1="1009.5" y1="109.1" x2="1009.5" y2="124.5"/>
<rect x="1007.5" y="114.96" width="4" height="3.84" fill="#fb4525"/>
<line x1="1015.5" y1="112.1" x2="1015.5" y2="123.6"/>
<rect x="1013.5" y="112.84" width="4" height="5.96" fill="#fb4525"/>
<line x1="1020.5" y1="118.3" x2="1020.5" y2="152.8"/>
<rect x="1018.5" y="118.85" width="4" height="32.14" fill="#fb4525"/>
<line x1="1025.5" y1="135.6" x2="1025.5" y2="149.6"/>
<rect x="1023.5" y="139.72" width="4" height="10.03" fill="#00bd4f"/>
<line x1="1031.5" y1="139.5" x2="1031.5" y2="175.8"/>
<rect x="1029.5" y="140.96" width="4" height="30.01" fill="#fb4525"/>
<line x1="1036.5" y1="161.3" x2="1036.5" y2="180.7"/>
<rect x="1034.5" y="167.67" width="4" height="7.20" fill="#fb4525"/>
<line x1="1041.5" y1="169.2" x2="1041.5" y2="189.6"/>
<rect x="1039.5" y="177.75" width="4" height="4.19" fill="#fb4525"/>
<line x1="1047.5" y1="176.3" x2="1047.5" y2="192.6"/>
<rect x="1045.5" y="182.70" width="4" height="3.31" fill="#fb4525"/>
<line x1="1052.5" y1="168.4" x2="1052.5" y2="182.0"/>
<rect x="1050.5" y="174.74" width="4" height="6.84" fill="#00bd4f"/>
<line x1="1057.5" y1="159.5" x2="1057.5" y2="174.9"/>
<rect x="1055.5" y="162.72" width="4" height="11.27" fill="#00bd4f"/>
<line x1="1063.5" y1="163.4" x2="1063.5" y2="174.0"/>
<rect x="1061.5" y="164.84" width="4" height="3.84" fill="#fb4525"/>
<line x1="1068.5" y1="161.3" x2="1068.5" y2="181.1"/>
<rect x="1066.5" y="165.01" width="4" height="3.66" fill="#00bd4f"/>
<line x1="1073.5" y1="159.3" x2="1073.5" y2="169.6"/>
<rect x="1071.5" y="161.48" width="4" height="3.31" fill="#00bd4f"/>
<line x1="1078.5" y1="155.3" x2="1078.5" y2="169.8"/>
<rect x="1076.5" y="161.05" width="4" height="2.30" fill="#00bd4f"/>
<line x1="1084.5" y1="159.6" x2="1084.5" y2="173.5"/>
<rect x="1082.5" y="160.40" width="4" height="13.60" fill="#fb4525"/>
</g>
<path fill="none" stroke="#1a3cf2" stroke-width="2" stroke-linejoin="round" d="M12.4,410.1 C16.1,409.6 27.3,408.2 34.4,407.3 C41.5,406.4 48.2,405.9 55.1,404.9 C62.0,403.9 68.2,402.5 75.7,401.5 C83.2,400.5 89.5,399.5 99.8,398.7 C110.1,397.9 125.6,397.3 137.7,396.5 C149.8,395.7 159.4,394.8 172.1,393.9 C184.8,393.0 202.2,391.7 213.7,391.0 C225.2,390.3 230.3,390.3 241.0,389.8 C251.7,389.3 266.5,388.5 278.0,388.2 C289.5,387.9 298.0,388.2 309.8,388.2 C321.6,388.2 336.3,388.2 348.7,388.0 C361.1,387.8 374.6,387.0 384.0,386.9 C393.4,386.8 397.1,387.2 405.0,387.2 C412.9,387.2 422.7,387.4 431.5,386.7 C440.3,386.0 449.1,384.3 458.0,383.2 C466.9,382.1 476.5,381.0 484.6,380.0 C492.7,379.0 499.3,378.7 506.7,377.3 C514.1,375.9 521.8,373.4 528.8,371.7 C535.8,370.0 539.8,369.0 548.6,366.9 C557.5,364.8 571.7,361.4 581.9,358.9 C592.1,356.4 601.2,354.1 610.0,351.9 C618.8,349.6 625.2,347.6 634.4,345.4 C643.6,343.2 657.5,340.6 665.4,338.6 C673.3,336.6 672.6,337.1 681.8,333.4 C691.0,329.7 708.3,321.2 720.5,316.2 C732.7,311.2 743.4,307.8 754.9,303.3 C766.4,298.9 776.4,293.9 789.3,289.5 C802.2,285.1 818.8,280.8 832.4,276.6 C846.0,272.4 859.6,267.6 871.1,264.5 C882.6,261.4 889.0,260.8 901.2,258.1 C913.4,255.4 929.9,251.4 944.2,248.2 C958.6,245.0 975.8,241.2 987.3,238.7 C998.8,236.2 1005.9,234.4 1013.1,233.1 C1020.3,231.8 1023.1,231.8 1030.3,231.0 C1037.5,230.2 1046.9,229.4 1056.1,228.4 C1065.3,227.4 1080.5,225.6 1085.4,225.0"/>
<path d="M784.9,52 L787.5,49.7 L790.1,52 Z" fill="#0aab4a"/>
<path d="M328.9,401.6 L334.1,401.6 L331.5,403.9 Z" fill="#ee4023"/>
<g font-size="11.6" fill="#666666" text-anchor="end">
<text x="1147.6" y="78.3">1,550.0</text>
<text x="1147.6" y="135.3">1,500.0</text>
<text x="1147.6" y="193.3">1,450.0</text>
<text x="1147.6" y="250.3">1,400.0</text>
<text x="1147.6" y="308.3">1,350.0</text>
<text x="1147.6" y="366.3">1,300.0</text>
<text x="1147.6" y="423.3">1,250.0</text>
<text x="1147.6" y="481.6">1,200.0</text>
<text x="1147.6" y="543.6">500K</text>
</g>
<g font-size="11.4" fill="#666666" text-anchor="middle">
<text x="103.0" y="614.8">Mar '19</text>
<text x="215.0" y="614.8">Apr '19</text>
<text x="326.0" y="614.8">May '19</text>
<text x="439.0" y="614.8">Jun '19</text>
<text x="549.0" y="614.8">Jul '19</text>
<text x="666.0" y="614.8">Aug '19</text>
<text x="780.0" y="614.8">Sep '19</text>
<text x="888.0" y="614.8">Oct '19</text>
<text x="1010.0" y="614.8">Nov '19</text>
</g>
<path d="M1103.3,148.3 L1108.0,139.8 L1150,139.8 L1150,156.8 L1108.0,156.8 Z" fill="#a8283a"/>
<text x="1148" y="152.5" font-size="11.6" font-weight="bold" fill="#fff" text-anchor="end">1,485.8</text>
<path d="M1103.3,173.3 L1108.0,164.8 L1150,164.8 L1150,181.8 L1108.0,181.8 Z" fill="#ee4023"/>
<text x="1148" y="177.5" font-size="11.6" font-weight="bold" fill="#fff" text-anchor="end">1,463.9</text>
<path d="M1103.3,225.5 L1108.0,217.0 L1150,217.0 L1150,234.0 L1108.0,234.0 Z" fill="#1a35f5"/>
<text x="1148" y="229.7" font-size="11.6" font-weight="bold" fill="#fff" text-anchor="end">1,418.5</text>
<path d="M1109.0,513.6 L1114.0,505.1 L1150,505.1 L1150,522.1 L1114.0,522.1 Z" fill="#b847cf"/>
<text x="1148" y="517.8" font-size="11.6" font-weight="bold" fill="#fff" text-anchor="end">719K</text>
<path d="M1109.0,596.6 L1114.0,588.1 L1150,588.1 L1150,605.1 L1114.0,605.1 Z" fill="#ee4023"/>
<text x="1148" y="600.8" font-size="11.6" font-weight="bold" fill="#fff" text-anchor="end">0K</text>
<text y="40.3" font-size="18" fill="#7d7d7d"><tspan x="22">Gold Dec</tspan><tspan x="103.9" textLength="24" lengthAdjust="spacing">'19</tspan><tspan x="134.6">(GCZ19)</tspan><tspan x="206.8">-</tspan><tspan x="216.6" textLength="112" lengthAdjust="spacing">Barchart.com</tspan></text>
<rect x="17" y="51" width="26" height="26" rx="4" fill="#f3f1f3"/>
<path d="M26.4,62.9 L30,66.3 L33.6,62.9" fill="none" stroke="#2a2a2a" stroke-width="1.8"/>
<rect x="17" y="486" width="26" height="26" rx="4" fill="#f3f1f3"/>
<path d="M25.8,501.5 L30,497.6 L34.2,501.5" fill="none" stroke="#2a2a2a" stroke-width="1.8"/>
<rect x="744.6" y="619.4" width="8" height="3" fill="#555"/>
<rect x="1079.6" y="619.4" width="8" height="3" fill="#555"/>
</svg></body></html>
